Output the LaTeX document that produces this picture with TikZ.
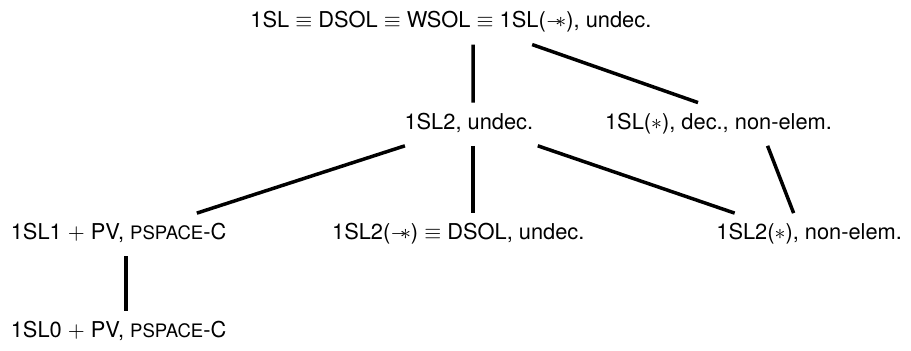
\documentclass[tikz,border=0pt]{standalone}
\usepackage{amsmath,amssymb}
\usepackage{fontspec}
\setmainfont{TeX Gyre Heros}
\newcommand{\wand}{\mathbin{-\!\!\ast}}
\newcommand{\pspc}{{\fontsize{8.5}{10}\selectfont PSPACE}-C}

\begin{document}
\begin{tikzpicture}[line width=1.6pt]
   \useasboundingbox (0,0) rectangle (14.67,-5.64);
   \begin{scope}[every node/.style={anchor=base,text height=0.25cm,text depth=0.09cm,inner ysep=0.15cm}]
    \node (sl)      at (7.26,-0.45) {1SL $\equiv$ DSOL $\equiv$ WSOL $\equiv$ 1SL($\wand$), undec.};
    \node (sl2)     at (7.55,-2.08) {1SL2, undec.};
    \node (slstar)  at (11.57,-2.08) {1SL($\ast$), dec., non-elem.};
    \node (sl1)     at (1.91,-3.86) {1SL1 $+$ PV, \pspc};
    \node (sl2wand) at (7.38,-3.86) {1SL2($\wand$) $\equiv$ DSOL, undec.};
    \node (sl2star) at (13.03,-3.86) {1SL2($\ast$), non-elem.};
    \node (sl0)     at (1.91,-5.44) {1SL0 $+$ PV, \pspc};
   \end{scope}
   \begin{scope}[every path/.style={draw=black}]
    \draw ([xshift=0.36cm]sl.south) -- ([xshift=0.07cm]sl2.north);
    \draw ([xshift=1.31cm]sl.south) -- ([xshift=-0.33cm]slstar.north);
    \draw ([xshift=-1.03cm]sl2.south) -- ([xshift=1.26cm]sl1.north);
    \draw ([xshift=0.07cm]sl2.south) -- ([xshift=0.24cm]sl2wand.north);
    \draw ([xshift=1.11cm]sl2.south) -- ([xshift=-1.20cm]sl2star.north);
    \draw ([xshift=0.79cm]slstar.south) -- ([xshift=-0.25cm]sl2star.north);
    \draw ([xshift=0.12cm]sl1.south) -- ([xshift=0.12cm]sl0.north);
   \end{scope}
\end{tikzpicture}
\end{document}
